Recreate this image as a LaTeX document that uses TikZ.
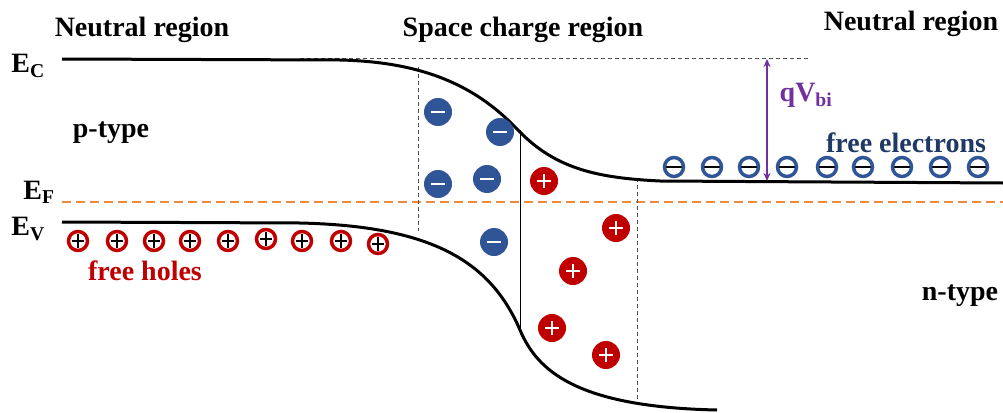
\documentclass[tikz,border=0pt]{standalone}
\usepackage{fontspec}
\setmainfont{Liberation Serif}
\usetikzlibrary{arrows.meta}
\definecolor{ionblue}{HTML}{2F5597}
\definecolor{ionred}{HTML}{C00000}
\definecolor{fermi}{HTML}{F08A3C}
\definecolor{qpurple}{HTML}{7030A0}
\definecolor{elecnavy}{HTML}{1F3864}
\definecolor{dgray}{HTML}{505050}
\tikzset{
  band/.style={line width=3pt, black},
  guide/.style={dgray, line width=1pt, dash pattern=on 4pt off 3pt},
  fermiline/.style={fermi, line width=2pt, dash pattern=on 9pt off 5pt},
  lbl/.style={inner sep=0pt, font=\fontsize{28}{32}\selectfont\bfseries},
  acceptor/.style={circle, fill=ionblue, minimum size=28pt, inner sep=0pt,
    path picture={\draw[white, line width=2.6pt] ([xshift=-7pt]path picture bounding box.center) -- ([xshift=7pt]path picture bounding box.center);}},
  donor/.style={circle, fill=ionred, minimum size=28pt, inner sep=0pt,
    path picture={\draw[white, line width=2.6pt] ([xshift=-7pt]path picture bounding box.center) -- ([xshift=7pt]path picture bounding box.center)
      ([yshift=-7pt]path picture bounding box.center) -- ([yshift=7pt]path picture bounding box.center);}},
  electron/.style={circle, draw=ionblue, line width=3.5pt, minimum size=19pt, inner sep=0pt,
    path picture={\draw[black, line width=1.8pt] ([xshift=-8pt]path picture bounding box.center) -- ([xshift=8pt]path picture bounding box.center);}},
  hole/.style={circle, draw=ionred, line width=3.5pt, minimum size=19pt, inner sep=0pt,
    path picture={\draw[black, line width=1.8pt] ([xshift=-6pt]path picture bounding box.center) -- ([xshift=6pt]path picture bounding box.center)
      ([yshift=-7pt]path picture bounding box.center) -- ([yshift=7pt]path picture bounding box.center);}},
}
\begin{document}
\begin{tikzpicture}[x=1pt,y=-1pt]
\useasboundingbox (0,0) rectangle (1003,412);
% reference dashed level
\coordinate (refL) at (300,59);
\coordinate (refR) at (808,59);
\draw[guide] (refL) -- (refR);
% Fermi level
\coordinate (fL) at (62,202);
\coordinate (fR) at (1003,202);
\draw[fermiline] (fL) -- (fR);
% region boundaries
\coordinate (b1t) at (418,67);
\coordinate (b1b) at (418,231);
\coordinate (b2t) at (520,130);
\coordinate (b2b) at (520,330);
\coordinate (b3t) at (637,178);
\coordinate (b3b) at (637,404);
\draw[guide] (b1t) -- (b1b);
\draw[black, line width=1pt] (b2t) -- (b2b);
\draw[guide] (b3t) -- (b3b);
% conduction band
\draw[band] (62,59) -- (340,60) .. controls (430,62) and (480,90) .. (518,130)
  .. controls (556,170) and (600,178) .. (660,181) -- (1003,183);
% valence band
\draw[band] (62,222) -- (300,223) .. controls (430,226) and (490,260) .. (520,330)
  .. controls (537,370) and (575,407) .. (717,410);
% qVbi arrow
\coordinate (qt) at (767,59);
\coordinate (qb) at (767,181);
\draw[qpurple, line width=1.6pt, {Stealth[length=8pt,width=7pt]}-{Stealth[length=8pt,width=7pt]}] (qt) -- (qb);
\node[lbl, text=qpurple] (qv) at (806,95) {qV\textsubscript{bi}};
% labels
\node[lbl] (nl) at (142,30) {Neutral region};
\node[lbl] (sc) at (523,30) {Space charge region};
\node[lbl] (nr) at (911,24) {Neutral region};
\node[lbl] (ec) at (28,66) {E\textsubscript{C}};
\node[lbl] (ef) at (39,192) {E\textsubscript{F}};
\node[lbl] (ev) at (28,229) {E\textsubscript{V}};
\node[lbl] (pt) at (111,133) {p-type};
\node[lbl] (nt) at (960,296) {n-type};
\node[lbl, text=ionred] (fh) at (145,271) {free holes};
\node[lbl, text=elecnavy] (fe) at (906,143) {free electrons};
% ionized acceptors
\node[acceptor] (a1) at (438,112) {};
\node[acceptor] (a2) at (500,132) {};
\node[acceptor] (a3) at (438,184) {};
\node[acceptor] (a4) at (487,179) {};
\node[acceptor] (a5) at (494,242) {};
% ionized donors
\node[donor] (d1) at (544,181) {};
\node[donor] (d2) at (616,228) {};
\node[donor] (d3) at (573,271) {};
\node[donor] (d4) at (552,328) {};
\node[donor] (d5) at (606,355) {};
% free electrons
\foreach \x [count=\i] in {674,712,749,787,827,863,902,940,978}
  \node[electron] (e\i) at (\x,167) {};
% free holes
\foreach \x/\y [count=\i] in {78/241,117/241,154/241,190/241,228/241,266/239,302/241,341/241,378/244}
  \node[hole] (h\i) at (\x,\y) {};
\end{tikzpicture}
\end{document}
